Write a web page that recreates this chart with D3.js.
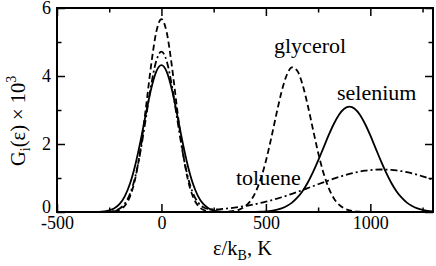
<!DOCTYPE html>
<html>
<head>
<meta charset="utf-8">
<script src="https://cdn.jsdelivr.net/npm/d3@7"></script>
</head>
<body style="margin:0">
<svg id="fig" width="436" height="266"></svg>
<script>
// ---- data ----
const eps = [-500,-475,-450,-425,-400,-375,-350,-325,-300,-275,-250,-225,-200,-175,-150,-125,-100,-75,-50,-25,
  0,25,50,75,100,125,150,175,200,225,250,275,300,325,350,375,400,425,450,475,500,525,550,575,600,625,650,675,
  700,725,750,775,800,825,850,875,900,925,950,975,1000,1025,1050,1075,1100,1125,1150,1175,1200,1225,1250,1275,1300];

const selenium = [0,0,0,0,0,0,0,0.002,0.006,0.018,0.046,0.110,0.237,0.468,0.844,1.390,2.090,2.872,3.603,4.128,
  4.320,4.128,3.603,2.872,2.090,1.390,0.844,0.468,0.237,0.110,0.046,0.018,0.006,0.002,0.000,0.001,0.001,0.002,
  0.005,0.010,0.019,0.034,0.061,0.106,0.174,0.276,0.420,0.613,0.862,1.164,1.509,1.880,2.251,2.589,2.862,3.039,
  3.100,3.039,2.862,2.589,2.251,1.880,1.509,1.164,0.862,0.613,0.420,0.276,0.174,0.106,0.061,0.034,0.019];

const glycerol = [0,0,0,0,0,0,0,0,0,0.001,0.005,0.020,0.066,0.187,0.463,0.995,1.862,3.031,4.292,5.289,
  5.670,5.289,4.292,3.031,1.862,0.995,0.463,0.187,0.066,0.020,0.005,0.003,0.005,0.014,0.034,0.077,0.163,0.318,
  0.577,0.967,1.501,2.157,2.870,3.535,4.030,4.254,4.156,3.759,3.148,2.441,1.751,1.163,0.716,0.407,0.215,0.105,
  0.047,0.020,0.008,0.003,0.001,0,0,0,0,0,0,0,0,0,0,0,0];

const toluene = [0,0,0,0,0,0,0,0.001,0.002,0.004,0.012,0.037,0.100,0.248,0.540,1.046,1.798,2.742,3.706,4.440,
  4.718,4.444,3.713,2.753,1.814,1.068,0.567,0.282,0.143,0.089,0.075,0.080,0.092,0.108,0.128,0.150,0.174,0.202,
  0.233,0.267,0.304,0.344,0.388,0.434,0.483,0.535,0.589,0.644,0.701,0.758,0.816,0.872,0.927,0.981,1.031,1.077,
  1.119,1.157,1.188,1.214,1.233,1.245,1.250,1.248,1.238,1.222,1.199,1.170,1.135,1.095,1.050,1.001,0.949];

const xMajorTicks = [-500, 0, 500, 1000];
const xMinorTicks = [-250, 250, 750, 1250];
const yMajorTicks = [0, 2, 4, 6];
const yMinorTicks = [1, 3, 5];

const seriesNames = ["selenium", "glycerol", "toluene"];

// ---- layout ----
const FONT = '"Liberation Serif"';
const svg = d3.select("#fig");
const L = 57, R = 433, T = 8, B = 212;

function serif(sel, size) {
  return sel.attr("font-family", FONT)
    .style("font-family", FONT, "important")
    .attr("font-size", size)
    .style("font-size", size + "px", "important")
    .attr("fill", "#000");
}

const x = d3.scaleLinear().domain([-500, 1300]).range([L, R]);
const y = d3.scaleLinear().domain([0, 6]).range([B, T]);

const series = [
  { name: "selenium", values: selenium, dash: null },
  { name: "glycerol", values: glycerol, dash: "6,3.5" },
  { name: "toluene",  values: toluene,  dash: "7,3,2,3" }
];

svg.append("clipPath").attr("id", "clip")
  .append("rect").attr("x", L).attr("y", T - 2).attr("width", R - L).attr("height", B - T + 2);

const line = d3.line()
  .x((d, i) => x(eps[i]))
  .y(d => y(d))
  .curve(d3.curveMonotoneX);

const g = svg.append("g").attr("clip-path", "url(#clip)");
series.forEach(s => {
  g.append("path")
    .attr("d", line(s.values))
    .attr("fill", "none")
    .attr("stroke", "#000")
    .attr("stroke-width", 1.8)
    .attr("stroke-dasharray", s.dash);
});

// ---- axes ----
function styleAxis(sel) {
  sel.attr("font-family", FONT).attr("font-size", 18);
  sel.select(".domain").remove();
  sel.selectAll(".tick line").attr("stroke", "#000").attr("stroke-width", 1.5);
  serif(sel.selectAll("text"), 18);
}

const bx = svg.append("g").attr("transform", `translate(0,${B})`)
  .call(d3.axisBottom(x).tickValues(xMajorTicks).tickSizeInner(-8).tickSizeOuter(0).tickPadding(4).tickFormat(d3.format("d")));
styleAxis(bx);
bx.selectAll(".tick text").text(d => d < 0 ? "-" + Math.abs(d) : String(d));
const bxm = svg.append("g").attr("transform", `translate(0,${B})`)
  .call(d3.axisBottom(x).tickValues(xMinorTicks).tickSizeInner(-4.5).tickSizeOuter(0).tickFormat(""));
styleAxis(bxm);
const tx = svg.append("g").attr("transform", `translate(0,${T})`)
  .call(d3.axisTop(x).tickValues(xMajorTicks).tickSizeInner(-8).tickSizeOuter(0).tickFormat(""));
styleAxis(tx);
const txm = svg.append("g").attr("transform", `translate(0,${T})`)
  .call(d3.axisTop(x).tickValues(xMinorTicks).tickSizeInner(-4.5).tickSizeOuter(0).tickFormat(""));
styleAxis(txm);

const ly = svg.append("g").attr("transform", `translate(${L},0)`)
  .call(d3.axisLeft(y).tickValues(yMajorTicks).tickSizeInner(-8).tickSizeOuter(0).tickPadding(6).tickFormat(d3.format("d")));
styleAxis(ly);
ly.selectAll(".tick text").filter(d => d === 0).attr("dy", "0.05em");
const lym = svg.append("g").attr("transform", `translate(${L},0)`)
  .call(d3.axisLeft(y).tickValues(yMinorTicks).tickSizeInner(-4.5).tickSizeOuter(0).tickFormat(""));
styleAxis(lym);
const ry = svg.append("g").attr("transform", `translate(${R},0)`)
  .call(d3.axisRight(y).tickValues(yMajorTicks).tickSizeInner(-8).tickSizeOuter(0).tickFormat(""));
styleAxis(ry);
const rym = svg.append("g").attr("transform", `translate(${R},0)`)
  .call(d3.axisRight(y).tickValues(yMinorTicks).tickSizeInner(-4.5).tickSizeOuter(0).tickFormat(""));
styleAxis(rym);

svg.append("rect")
  .attr("x", L).attr("y", T).attr("width", R - L).attr("height", B - T)
  .attr("fill", "none").attr("stroke", "#000").attr("stroke-width", 2);

// ---- axis titles ----
const xt = serif(svg.append("text").attr("x", 213).attr("y", 255), 20.5);
xt.append("tspan").text("ε/k");
serif(xt.append("tspan").attr("dy", 5), 14).text("B");
xt.append("tspan").attr("dy", -5).text(", K");

const yt = serif(svg.append("text").attr("transform", "translate(25,166) rotate(-90)"), 20.5);
yt.append("tspan").text("G");
serif(yt.append("tspan").attr("dy", 5), 14).text("i");
yt.append("tspan").attr("dy", -5).text("(ε) × 10");
serif(yt.append("tspan").attr("dy", -9), 14).text("3");

// ---- series labels ----
const labelX = [337, 274, 236];
const labelY = [100, 53, 185];
seriesNames.forEach((n, i) => {
  serif(svg.append("text").attr("x", labelX[i]).attr("y", labelY[i]), 22).text(n);
});
</script>
</body>
</html>
